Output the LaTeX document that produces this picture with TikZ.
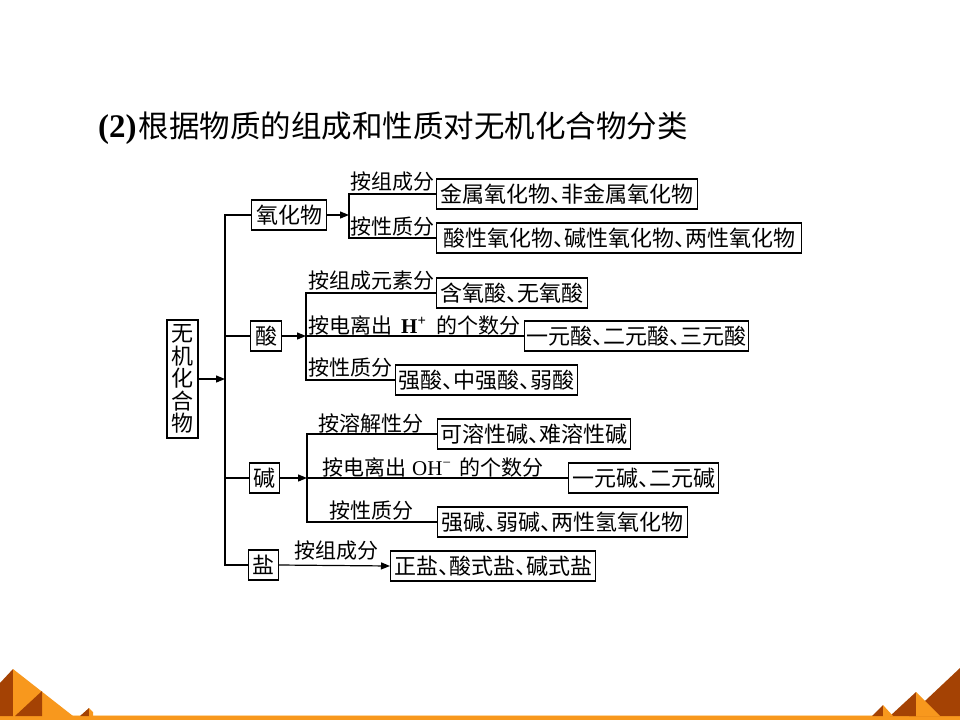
\documentclass[tikz,border=0pt]{standalone}
\usepackage{fontspec}
\setmainfont{Liberation Serif}
\newfontfamily\cjk{Noto Sans CJK SC}
\usetikzlibrary{arrows.meta}
\definecolor{pyrdark}{RGB}{164,66,4}
\definecolor{pyrlight}{RGB}{248,152,29}
\definecolor{barpale}{RGB}{252,214,160}
\newcommand\dn{\makebox[0.5em][l]{、}}
\begin{document}
\begin{tikzpicture}[x=1pt,y=-1pt,
  box/.style={draw, line width=1.2pt, inner xsep=0pt, inner ysep=0pt, minimum height=30pt, anchor=west, font=\cjk\fontsize{22}{22.5}\selectfont},
  lbl/.style={anchor=base west, inner sep=0pt, font=\cjk\fontsize{21}{22}\selectfont},
  conn/.style={line width=1.2pt},
  arr/.style={conn, -{Triangle[length=9pt,width=7pt]}},
  dk/.style={fill=pyrdark, draw=none},
  lt/.style={fill=pyrlight, draw=none}
]
\useasboundingbox (0,0) rectangle (960,720);
\fill[white] (0,0) rectangle (960,720);

% title
\node[anchor=base west, inner sep=0pt] (title) at (98,137) {{\fontsize{33}{34}\selectfont\bfseries (2)}\kern2pt{\cjk\fontsize{30.5}{32}\selectfont 根据物质的组成和性质对无机化合物分类}};

% main boxes
\node[box, minimum width=31pt, minimum height=118pt, anchor=center, align=center] (root) at (182.5,379) {无\\机\\化\\合\\物};
\node[box, minimum width=75pt] (ox) at (251,215) {氧化物};
\node[box, minimum width=31pt] (ac) at (250,336) {酸};
\node[box, minimum width=30pt] (ba) at (249,478) {碱};
\node[box, minimum width=30pt] (sa) at (248,565) {盐};

% leaf boxes
\node[box, minimum width=261pt] (o1) at (436,194) {金属氧化物\dn 非金属氧化物};
\node[box, minimum width=365pt] (o2) at (436,238) {酸性氧化物\dn 碱性氧化物\dn 两性氧化物};
\node[box, minimum width=151pt] (a1) at (436,293) {含氧酸\dn 无氧酸};
\node[box, minimum width=224pt] (a2) at (524,336) {一元酸\dn 二元酸\dn 三元酸};
\node[box, minimum width=182pt] (a3) at (395,380) {强酸\dn 中强酸\dn 弱酸};
\node[box, minimum width=193pt] (b1) at (437,434) {可溶性碱\dn 难溶性碱};
\node[box, minimum width=150pt] (b2) at (568,478) {一元碱\dn 二元碱};
\node[box, minimum width=250pt] (b3) at (437,522) {强碱\dn 弱碱\dn 两性氢氧化物};
\node[box, minimum width=205pt] (s1) at (390,566) {正盐\dn 酸式盐\dn 碱式盐};

% junction coordinates
\coordinate (tR) at (225,379);
\coordinate (tT) at (225,215);
\coordinate (tA) at (225,336);
\coordinate (tBa) at (225,478);
\coordinate (tB) at (225,565);
\coordinate (oJ) at (349,215);
\coordinate (oT) at (349,194);
\coordinate (oB) at (349,238);
\coordinate (aT) at (306,293);
\coordinate (aM) at (306,336);
\coordinate (aB) at (306,380);
\coordinate (bT) at (307,434);
\coordinate (bM) at (307,478);
\coordinate (bB) at (307,522);

% trunk
\draw[arr] (root.east) -- (tR);
\draw[conn] (ox.west) -- (tT) -- (tB) -- (sa.west);
\draw[conn] (tA) -- (ac.west);
\draw[conn] (tBa) -- (ba.west);

% oxide
\draw[arr] (ox.east) -- (oJ);
\draw[conn] (o1.west) -- (oT) -- (oB) -- (o2.west);
% acid
\draw[arr] (ac.east) -- (aM);
\draw[conn] (a1.west) -- (aT) -- (aB) -- (a3.west);
\draw[conn] (aM) -- (a2.west);
% base
\draw[arr] (ba.east) -- (bM);
\draw[conn] (b1.west) -- (bT) -- (bB) -- (b3.west);
\draw[conn] (bM) -- (b2.west);
% salt
\draw[arr] (sa.east) -- (s1.west);

% labels
\node[lbl] (l1) at (350,189) {按组成分};
\node[lbl] (l2) at (350,234.5) {按性质分};
\node[lbl] (l3) at (308,288.5) {按组成元素分};
\node[lbl] (l4) at (308,333.5) {按电离出\hspace{9pt}{\rmfamily\bfseries H\textsuperscript{+}}\hspace{10pt}的个数分};
\node[lbl] (l5) at (308,375.5) {按性质分};
\node[lbl] (l6) at (318,431.5) {按溶解性分};
\node[lbl] (l7) at (322,475.5) {按电离出\hspace{6pt}{\rmfamily OH\textsuperscript{\char"2212}}\hspace{8pt}的个数分};
\node[lbl] (l8) at (329,518.5) {按性质分};
\node[lbl] (l9) at (294,558.5) {按组成分};

% bottom decoration
\fill[barpale] (0,714.5) rectangle (960,716);
\fill[pyrlight] (0,716) rectangle (960,720);
% left
\fill[dk] (0,683) -- (13,669) -- (13,716) -- (0,716) -- cycle;
\fill[lt] (13,669) -- (73,716) -- (13,716) -- cycle;
\fill[dk] (15,716) -- (42,691) -- (42,716) -- cycle;
\fill[dk] (80,716) -- (89,708) -- (89,716) -- cycle;
\fill[lt] (89,708) -- (93,712) -- (93,716) -- (89,716) -- cycle;
% right
\fill[dk] (909,716) -- (960,668) -- (960,716) -- cycle;
\fill[dk] (890,716) -- (916,692) -- (916,716) -- cycle;
\fill[lt] (916,692) -- (940,716) -- (916,716) -- cycle;
\fill[dk] (872,716) -- (883,705) -- (883,716) -- cycle;
\fill[lt] (883,705) -- (893,716) -- (883,716) -- cycle;
\end{tikzpicture}
\end{document}
